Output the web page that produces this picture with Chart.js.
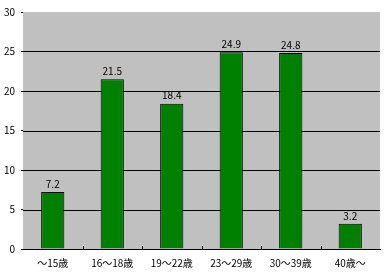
<!DOCTYPE html>
<html>
<head>
<meta charset="utf-8">
<script src="https://cdn.jsdelivr.net/npm/chart.js@4/dist/chart.umd.min.js"></script>
<style>
  body { margin: 0; background: #fff; }
  #chart { display: block; }
</style>
</head>
<body>
<canvas id="chart" width="384" height="273"></canvas>
<script>
// Data
const categories = ["～15歳", "16～18歳", "19～22歳", "23～29歳", "30～39歳", "40歳～"];
const values = [7.2, 21.5, 18.4, 24.9, 24.8, 3.2];
const yTicks = [0, 5, 10, 15, 20, 25, 30];

const FONT = "'Noto Sans CJK JP', 'DejaVu Sans', sans-serif";

// gray plot background + horizontal grid lines (none at the top value)
const bgPlugin = {
    id: "plotBg",
    beforeDatasetsDraw(chart) {
        const { ctx, chartArea: a, scales } = chart;
        ctx.save();
        ctx.fillStyle = "#c0c0c0";
        ctx.fillRect(a.left, a.top, a.right - a.left, a.bottom - a.top);
        ctx.strokeStyle = "#000";
        ctx.lineWidth = 1;
        yTicks.forEach(v => {
            if (v === 0 || v === 30) return;
            const y = Math.round(scales.y.getPixelForValue(v)) + 0.5;
            ctx.beginPath();
            ctx.moveTo(a.left, y);
            ctx.lineTo(a.right, y);
            ctx.stroke();
        });
        ctx.restore();
    }
};

// small tick marks between categories, pointing up into the plot
const innerTicks = {
    id: "innerTicks",
    afterDatasetsDraw(chart) {
        const { ctx, chartArea: a } = chart;
        const step = (a.right - a.left) / categories.length;
        ctx.save();
        ctx.strokeStyle = "#000";
        ctx.lineWidth = 1;
        for (let i = 1; i < categories.length; i++) {
            const x = Math.round(a.left + step * i) + 0.5;
            ctx.beginPath();
            ctx.moveTo(x, a.bottom);
            ctx.lineTo(x, a.bottom - 3);
            ctx.stroke();
        }
        ctx.restore();
    }
};

// value labels above bars
const valueLabels = {
    id: "valueLabels",
    afterDatasetsDraw(chart) {
        const { ctx } = chart;
        const meta = chart.getDatasetMeta(0);
        ctx.save();
        ctx.fillStyle = "#000";
        ctx.font = "10px " + FONT;
        ctx.textAlign = "center";
        ctx.textBaseline = "bottom";
        meta.data.forEach((bar, i) => {
            ctx.fillText(values[i].toFixed(1), bar.x, bar.y - 3);
        });
        ctx.restore();
    }
};

new Chart(document.getElementById("chart"), {
    type: "bar",
    data: {
        labels: categories,
        datasets: [{
            data: values,
            backgroundColor: "#008000",
            borderColor: "#000",
            borderWidth: 1,
            categoryPercentage: 1,
            barPercentage: 0.39
        }]
    },
    options: {
        responsive: false,
        animation: false,
        devicePixelRatio: 1,
        layout: { padding: { top: 10, right: 4, left: 0, bottom: 0 } },
        plugins: {
            legend: { display: false },
            tooltip: { enabled: false }
        },
        scales: {
            x: {
                grid: { display: false },
                border: { display: true, color: "#000", width: 1 },
                ticks: { color: "#000", font: { family: FONT, size: 10 }, padding: 0, maxRotation: 0 },
                afterFit(scale) { scale.height = 24; }
            },
            y: {
                min: 0,
                max: 30,
                afterBuildTicks(scale) { scale.ticks = yTicks.map(v => ({ value: v })); },
                grid: { color: "#000", lineWidth: 1, tickLength: 2, drawTicks: true, drawOnChartArea: false },
                border: { display: true, color: "#000", width: 1 },
                ticks: { color: "#000", font: { family: FONT, size: 10 }, padding: 6 },
                afterFit(scale) { scale.width = 23; }
            }
        }
    },
    plugins: [bgPlugin, innerTicks, valueLabels]
});
</script>
</body>
</html>
